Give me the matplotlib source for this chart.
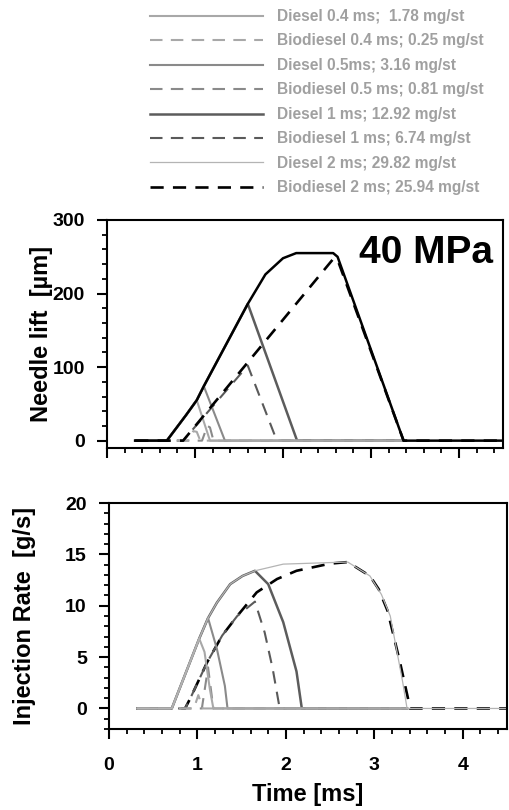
import matplotlib
matplotlib.use("Agg")
import matplotlib.pyplot as plt
from matplotlib.ticker import MultipleLocator

plt.rcParams['font.family'] = ['Liberation Sans', 'DejaVu Sans']
plt.rcParams['font.weight'] = 'bold'

# ---------------- data ----------------
labels = ["Diesel 0.4 ms;  1.78 mg/st", "Biodiesel 0.4 ms; 0.25 mg/st",
          "Diesel 0.5ms; 3.16 mg/st", "Biodiesel 0.5 ms; 0.81 mg/st",
          "Diesel 1 ms; 12.92 mg/st", "Biodiesel 1 ms; 6.74 mg/st",
          "Diesel 2 ms; 29.82 mg/st", "Biodiesel 2 ms; 25.94 mg/st"]

# Needle lift [um]
nl_t_d04 = [0.32, 0.68, 0.9, 1.02, 1.17, 3.37]
nl_v_d04 = [0, 0, 35, 55, 0, 0]
nl_t_b04 = [0.32, 0.92, 0.98, 1.02, 1.06, 3.37]
nl_v_b04 = [0, 0, 13, 12, 0, 0]
nl_t_d05 = [0.32, 0.68, 0.9, 1.02, 1.1, 1.34, 3.37]
nl_v_d05 = [0, 0, 35, 55, 74, 0, 0]
nl_t_b05 = [0.32, 1.08, 1.14, 1.17, 1.21, 3.37]
nl_v_b05 = [0, 0, 20, 18, 0, 0]
nl_t_d1 = [0.32, 0.68, 0.9, 1.02, 1.1, 1.6, 2.16, 3.37]
nl_v_d1 = [0, 0, 35, 55, 74, 186, 0, 0]
nl_t_b1 = [0.32, 0.865, 1.6, 1.93, 3.37]
nl_v_b1 = [0, 0, 102, 0, 0]
nl_t_d2 = [0.32, 0.68, 0.9, 1.02, 1.1, 1.6, 1.8, 2.0, 2.15, 2.57, 2.62, 3.37, 4.5]
nl_v_d2 = [0, 0, 35, 55, 74, 186, 226, 248, 255, 255, 250, 0, 0]
nl_t_b2 = [0.32, 0.865, 2.57, 2.62, 3.37, 4.5]
nl_v_b2 = [0, 0, 247, 246, 0, 0]

# Injection rate [g/s]
ir_t_d04 = [0.32, 0.71, 1.02, 1.08, 1.14, 1.18, 3.37]
ir_v_d04 = [0, 0, 6.8, 5.5, 1.9, 0, 0]
ir_t_b04 = [0.32, 0.96, 1.01, 1.06, 3.37]
ir_v_b04 = [0, 0, 1.3, 0, 0]
ir_t_d05 = [0.32, 0.71, 1.02, 1.12, 1.22, 1.31, 1.34, 3.37]
ir_v_d05 = [0, 0, 6.8, 8.8, 5.8, 2.2, 0, 0]
ir_t_b05 = [0.32, 1.05, 1.12, 1.18, 3.37]
ir_v_b05 = [0, 0, 4.0, 0, 0]
ir_t_d1 = [0.32, 0.71, 1.02, 1.12, 1.22, 1.37, 1.51, 1.65, 1.80, 1.97, 2.12, 2.18, 3.37]
ir_v_d1 = [0, 0, 6.8, 8.8, 10.3, 12.1, 12.9, 13.4, 12.1, 8.4, 3.6, 0, 0]
ir_t_b1 = [0.31, 0.86, 0.92, 1.11, 1.28, 1.45, 1.65, 1.76, 1.85, 1.93, 3.37]
ir_v_b1 = [0, 0, 1.0, 4.5, 7.1, 9.0, 10.4, 7.4, 3.9, 0, 0]
ir_t_d2 = [0.32, 0.71, 1.02, 1.12, 1.22, 1.37, 1.51, 1.65, 1.97, 2.5, 2.7,
           2.95, 3.08, 3.18, 3.25, 3.32, 3.37, 4.5]
ir_v_d2 = [0, 0, 6.8, 8.8, 10.3, 12.1, 12.9, 13.4, 14.05, 14.2, 14.25,
           12.9, 11.1, 9.0, 5.8, 2.6, 0, 0]
ir_t_b2 = [0.31, 0.86, 0.92, 1.11, 1.28, 1.45, 1.67, 1.90, 2.12, 2.50, 2.70,
           2.95, 3.05, 3.15, 3.29, 3.38, 3.40, 4.5]
ir_v_b2 = [0, 0, 1.0, 4.5, 7.1, 9.0, 11.3, 12.6, 13.4, 14.1, 14.25,
           12.9, 11.6, 9.5, 4.5, 1.0, 0, 0]

x_ticks = [0, 1, 2, 3, 4]

# ---------------- styles ----------------
styles = [
    dict(color='#a8a8a8', lw=1.5, ls='-'),
    dict(color='#a8a8a8', lw=1.5, ls=(0, (6, 4))),
    dict(color='#8a8a8a', lw=1.5, ls='-'),
    dict(color='#8a8a8a', lw=1.5, ls=(0, (6, 4))),
    dict(color='#5c5c5c', lw=1.8, ls='-'),
    dict(color='#5a5a5a', lw=1.5, ls=(0, (6, 4))),
    dict(color='#b4b4b4', lw=0.9, ls='-'),
    dict(color='black', lw=1.9, ls=(0, (5, 3.5))),
]

fig = plt.figure(figsize=(5.09, 8.10), dpi=100)
ax1 = fig.add_axes([107/509, 1-448/810, 396/509, 228/810])
ax2 = fig.add_axes([109/509, 1-729/810, 398/509, 226/810])

nl_t = [nl_t_d04, nl_t_b04, nl_t_d05, nl_t_b05, nl_t_d1, nl_t_b1, nl_t_d2, nl_t_b2]
nl_v = [nl_v_d04, nl_v_b04, nl_v_d05, nl_v_b05, nl_v_d1, nl_v_b1, nl_v_d2, nl_v_b2]
ir_t = [ir_t_d04, ir_t_b04, ir_t_d05, ir_t_b05, ir_t_d1, ir_t_b1, ir_t_d2, ir_t_b2]
ir_v = [ir_v_d04, ir_v_b04, ir_v_d05, ir_v_b05, ir_v_d1, ir_v_b1, ir_v_d2, ir_v_b2]

# top: Diesel 2 drawn black solid
top_styles = list(styles)
top_styles[6] = dict(color='black', lw=1.8, ls='-')
order = [6, 7, 5, 4, 3, 2, 1, 0]
for i in order:
    ax1.plot(nl_t[i], nl_v[i], zorder=2 + (i in (6, 7)) * 3, **top_styles[i])

handles = [None] * 8
for i in [7, 5, 4, 3, 2, 1, 0, 6]:
    h, = ax2.plot(ir_t[i], ir_v[i], label=labels[i], **styles[i])
    handles[i] = h

for ax in (ax1, ax2):
    ax.set_xlim(0, 4.5)
    ax.xaxis.set_major_locator(MultipleLocator(1))
    ax.xaxis.set_minor_locator(MultipleLocator(0.2))
    ax.tick_params(which='major', direction='out', length=7, width=1.5, labelsize=14)
    ax.tick_params(which='minor', direction='out', length=3.5, width=1.3)
    for s in ax.spines.values():
        s.set_linewidth(1.5)
    for lab in ax.get_xticklabels() + ax.get_yticklabels():
        lab.set_fontweight('bold')

ax1.set_ylim(-10, 300)
ax1.yaxis.set_major_locator(MultipleLocator(100))
ax1.yaxis.set_minor_locator(MultipleLocator(20))
ax1.tick_params(axis='x', labelbottom=False)
ax1.tick_params(axis='y', pad=9)
ax1.set_ylabel("Needle lift  [\u00b5m]", fontsize=17, fontweight='bold')
ax1.yaxis.set_label_coords(-0.137, 0.5)
ax1.text(0.975, 0.811, "40 MPa", transform=ax1.transAxes, ha='right',
         va='baseline', fontsize=28, fontweight='bold')

ax2.set_ylim(-2, 20)
ax2.yaxis.set_major_locator(MultipleLocator(5))
ax2.yaxis.set_minor_locator(MultipleLocator(1))
ax2.set_xticks(x_ticks)
ax2.set_xticklabels([str(v) for v in x_ticks], fontweight='bold')
ax2.tick_params(axis='x', pad=13)
ax2.tick_params(axis='y', pad=9)
ax2.set_ylabel("Injection Rate  [g/s]", fontsize=17, fontweight='bold')
ax2.yaxis.set_label_coords(-0.184, 0.5)
ax2.set_xlabel("Time [ms]", fontsize=17, fontweight='bold', labelpad=7)

fs = 11.2
leg = fig.legend(handles=handles, labels=labels, loc='upper left',
                 bbox_to_anchor=(150/509, 1 - 9/810), frameon=False,
                 borderaxespad=0, borderpad=0, handlelength=7.26,
                 handletextpad=0.9, labelspacing=0.61,
                 prop=dict(family='Liberation Sans', weight='bold', size=fs))
for t in leg.get_texts():
    t.set_color('#a0a0a0')

fig.savefig("out.png", dpi=100)
